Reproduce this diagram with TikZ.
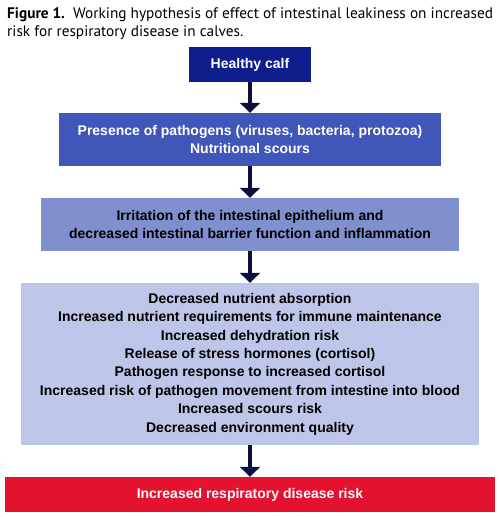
\documentclass[tikz,border=0pt]{standalone}
\usepackage{fontspec}
\setmainfont{Liberation Sans}
\newfontfamily\titlefont{PT Sans}
\usetikzlibrary{arrows.meta}
\definecolor{navy}{RGB}{14,30,140}
\definecolor{midblue}{RGB}{64,86,184}
\definecolor{lightblue}{RGB}{128,143,206}
\definecolor{paleblue}{RGB}{189,198,232}
\definecolor{alertred}{RGB}{228,18,46}
\definecolor{arrowcol}{RGB}{12,16,60}
\tikzset{
  box/.style={rectangle, inner sep=0pt, align=center, font=\fontsize{14}{18.4}\selectfont\bfseries},
  flowarrow/.style={draw=arrowcol, line width=4pt, -{Triangle[width=20pt,length=10pt]}},
}
\begin{document}
\begin{tikzpicture}[x=1pt,y=-1pt]
\useasboundingbox (0,0) rectangle (500,517);
\fill[white] (0,0) rectangle (500,517);
\node[anchor=north west, align=left, inner sep=0pt, font=\titlefont\fontsize{15.3}{18}\selectfont] (title) at (7,7.5)
  {\textbf{Figure 1.}\ \ Working hypothesis of effect of intestinal leakiness on increased\\ risk for respiratory disease in calves.};
\node[box, fill=navy, text=white, minimum width=122pt, minimum height=35pt] (b1) at (250,64.5) {Healthy calf};
\node[box, fill=midblue, text=white, minimum width=382pt, minimum height=53pt] (b2) at (250,139.5)
  {Presence of pathogens (viruses, bacteria, protozoa)\\Nutritional scours};
\node[box, fill=lightblue, text=black, minimum width=418pt, minimum height=53pt] (b3) at (250,224.5)
  {Irritation of the intestinal epithelium and\\decreased intestinal barrier function and inflammation};
\node[box, fill=paleblue, text=black, minimum width=458pt, minimum height=162pt] (b4) at (250,364)
  {Decreased nutrient absorption\\
   Increased nutrient requirements for immune maintenance\\
   Increased dehydration risk\\
   Release of stress hormones (cortisol)\\
   Pathogen response to increased cortisol\\
   Increased risk of pathogen movement from intestine into blood\\
   Increased scours risk\\
   Decreased environment quality};
\node[box, fill=alertred, text=white, minimum width=490pt, minimum height=35pt] (b5) at (250,494.5)
  {Increased respiratory disease risk};
\draw[flowarrow] (b1.south) -- (b2.north);
\draw[flowarrow] (b2.south) -- (b3.north);
\draw[flowarrow] (b3.south) -- (b4.north);
\draw[flowarrow] (b4.south) -- (b5.north);
\end{tikzpicture}
\end{document}
